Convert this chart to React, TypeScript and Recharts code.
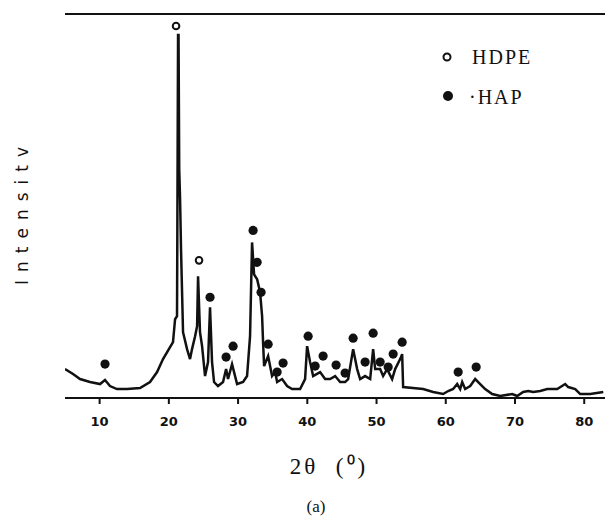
import React from 'react';
import { ComposedChart, Line, Scatter, XAxis, YAxis, ReferenceLine, Label, Customized } from 'recharts';

// diffraction pattern, 2θ (degrees) and intensity (a.u.)
const thetaValues = [
  5.0, 6.16, 7.17, 8.61, 10.06, 10.78, 11.5, 12.5, 13.96, 15.84, 17.28, 18.3, 19.16, 20.6, 20.9, 21.18,
  21.22, 21.33, 21.4, 21.5, 21.62, 21.76, 22.05, 22.63, 23.06, 23.35, 23.79, 24.08, 24.22, 24.5, 24.8,
  25.23, 25.66, 25.95, 26.24, 26.53, 27.1, 27.83, 28.27, 28.55, 29.13, 29.86, 30.72, 31.3, 31.73, 32.02,
  32.31, 32.75, 33.18, 33.47, 33.61, 33.76, 34.34, 34.91, 35.35, 35.64, 36.36, 37.08, 37.8, 38.96, 39.68,
  39.97, 40.4, 40.84, 41.85, 42.57, 43.29, 44.02, 44.74, 45.46, 45.9, 46.62, 47.2, 47.63, 48.35, 49.08,
  49.51, 49.8, 50.52, 50.95, 51.53, 52.25, 52.69, 53.41, 53.7, 53.84, 56.73, 58.18, 59.62, 60.35, 61.07,
  61.65, 62.08, 62.37, 62.8, 63.53, 64.25, 64.97, 65.69, 66.71, 67.86, 69.6, 70.32, 71.18, 71.91, 72.63,
  73.64, 74.65, 76.1, 77.25, 77.69, 78.7, 79.42, 80.87, 82.75,
];
const intensityValues = [
  29, 24, 19, 16, 14, 18, 12, 9, 9, 10, 16, 26, 39, 56, 79, 82,
  154, 364, 364, 229, 200, 149, 66, 49, 39, 49, 62, 72, 122, 66, 52,
  22, 36, 91, 36, 16, 12, 16, 29, 19, 34, 14, 16, 22, 62, 156,
  124, 119, 106, 82, 56, 32, 42, 22, 26, 16, 19, 12, 9, 9, 19,
  52, 36, 22, 26, 19, 19, 22, 16, 16, 19, 49, 29, 19, 22, 19,
  49, 29, 29, 22, 29, 19, 29, 39, 44, 11, 9, 6, 4, 7, 9,
  14, 9, 16, 9, 12, 19, 14, 9, 4, 2, 4, 2, 6, 7, 6,
  7, 9, 9, 14, 11, 9, 4, 4, 6,
];

// peak markers
const hdpeTheta = [21.04, 24.36];
const hdpeIntensity = [373, 138];
const hapTheta = [
  10.78, 25.95, 28.27, 29.28, 32.17, 32.75, 33.32, 34.34, 35.64, 36.5, 40.12, 41.13, 42.28, 44.16,
  45.46, 46.62, 48.35, 49.51, 50.52, 51.68, 52.4, 53.7, 61.79, 64.39,
];
const hapIntensity = [
  34, 101, 41, 52, 168, 136, 106, 54, 26, 35, 62, 32, 42, 33,
  25, 60, 36, 65, 36, 31, 44, 56, 26, 31,
];

const xTicks = [10, 20, 30, 40, 50, 60, 70, 80];

const curve = thetaValues.map((t, idx) => ({ t, i: intensityValues[idx] }));
const hdpe = hdpeTheta.map((t, idx) => ({ t, i: hdpeIntensity[idx] }));
const hap = hapTheta.map((t, idx) => ({ t, i: hapIntensity[idx] }));

const OpenDot = (props: any) => (
  <circle cx={props.cx} cy={props.cy} r={3.3} fill="#fff" stroke="#111" strokeWidth={2} />
);
const FilledDot = (props: any) => <circle cx={props.cx} cy={props.cy} r={4.6} fill="#111" />;

// legend, y label and caption
const Extras = () => (
  <g>
    <circle cx={447} cy={57} r={3.5} fill="#fff" stroke="#111" strokeWidth={2} />
    <text x={472} y={64} fontFamily="Liberation Serif" fontSize={20} letterSpacing={2} fill="#111">HDPE</text>
    <circle cx={448} cy={96} r={5} fill="#111" />
    <text x={469} y={104} fontFamily="Liberation Serif" fontSize={20} letterSpacing={2} fill="#111">·HAP</text>
    <text
      x={22}
      y={212}
      transform="rotate(-90 22 212)"
      textAnchor="middle"
      dominantBaseline="central"
      fontFamily="DejaVu Sans"
      fontSize={17}
      letterSpacing={8}
      fill="#111"
    >
      Intensitv
    </text>
    <text x={316} y={512} textAnchor="middle" fontFamily="Liberation Serif" fontSize={17} fill="#111">(a)</text>
  </g>
);

const App: React.FC = () => {
  return (
    <div style={{ position: 'absolute', left: 0, top: 0, background: '#fff' }}>
      <ComposedChart width={605} height={521} margin={{ top: 14, right: 0, bottom: 93, left: 65 }}>
        <XAxis
          dataKey="t"
          type="number"
          domain={[5, 83]}
          ticks={xTicks}
          allowDataOverflow
          axisLine={{ stroke: '#111', strokeWidth: 2 }}
          tickLine={{ stroke: '#111', strokeWidth: 2 }}
          tickSize={6}
          tickMargin={13}
          tick={{ fill: '#111', fontFamily: 'DejaVu Sans', fontWeight: 'bold', fontSize: 13 }}
          height={30}
        >
          <Label
            content={() => (
              <text x={329} y={474} textAnchor="middle" fontFamily="Liberation Serif" fontSize={23} letterSpacing={3} fill="#111">
                2θ{'\u00a0\u00a0'}(⁰)
              </text>
            )}
          />
        </XAxis>
        <YAxis
          dataKey="i"
          type="number"
          domain={[0, 385]}
          width={0}
          tick={false}
          tickLine={false}
          axisLine={{ stroke: '#111', strokeWidth: 2 }}
        />
        <ReferenceLine y={385} stroke="#111" strokeWidth={2} />
        <Line
          data={curve}
          dataKey="i"
          type="linear"
          stroke="#111"
          strokeWidth={2.5}
          dot={false}
          isAnimationActive={false}
        />
        <Scatter data={hdpe} dataKey="i" shape={OpenDot} isAnimationActive={false} />
        <Scatter data={hap} dataKey="i" shape={FilledDot} isAnimationActive={false} />
        <Customized component={Extras} />
      </ComposedChart>
    </div>
  );
};

export default App;
